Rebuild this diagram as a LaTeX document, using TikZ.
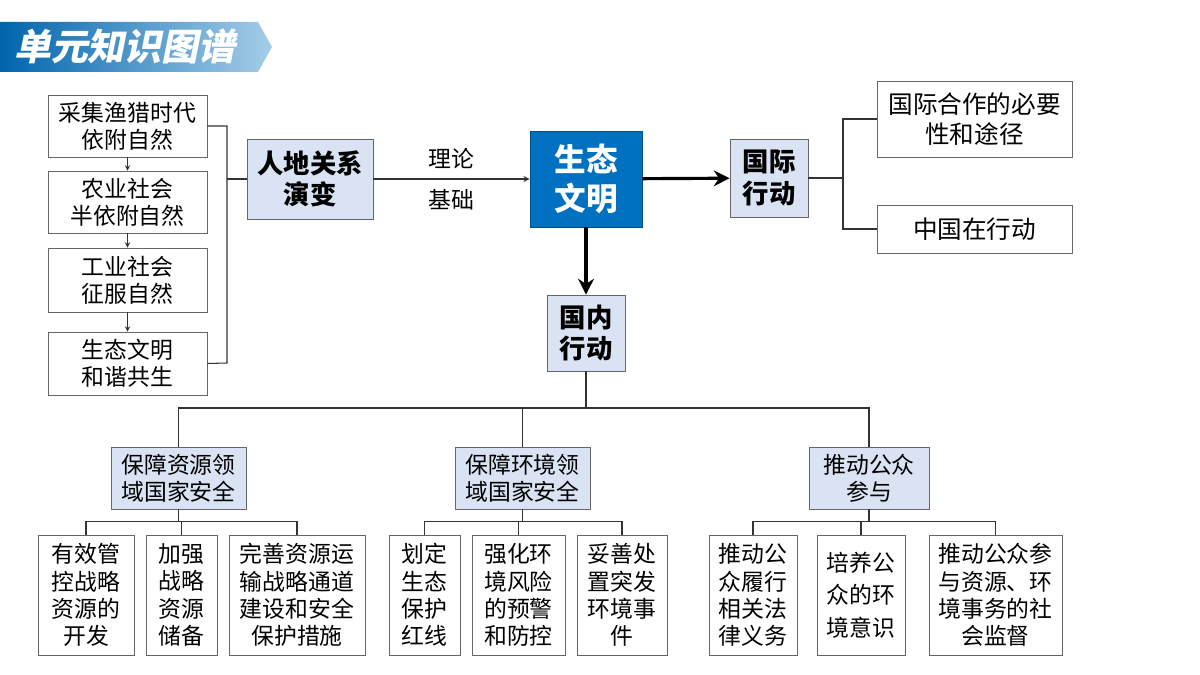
\documentclass[tikz,border=0pt]{standalone}
\usepackage{fontspec}
\usetikzlibrary{calc,arrows.meta}
\setmainfont{Noto Sans CJK SC}
\newfontfamily\titlefont[FakeSlant=0.2]{Noto Sans CJK SC}
\definecolor{boxblue}{HTML}{DAE3F3}
\definecolor{mainblue}{HTML}{0070C0}
\tikzset{
  sz/.style 2 args={minimum width=#1*0.02cm, minimum height=#2*0.02cm},
  box/.style={draw=black!60, fill=white, align=center, inner sep=1pt, font=\fontsize{13}{15.5}\selectfont},
  hbox/.style={box, fill=boxblue, font=\fontsize{15}{18}\selectfont\bfseries},
  link/.style={draw=black!80, line width=0.6pt},
  bigarrow/.style={draw=black, line width=1.8pt, -{Stealth[length=9pt,width=9pt]}},
}
\begin{document}
\begin{tikzpicture}[x=0.02cm, y=-0.02cm]
  \useasboundingbox (0,0) rectangle (1200,675);
  % title banner
  \shade[left color=mainblue!90!black, right color=mainblue!35] (0,22) -- (258,22) -- (272,47) -- (258,72) -- (0,72) -- cycle;
  \node[text=white, font=\titlefont\fontsize{21}{24}\selectfont\bfseries, anchor=west] (title) at (8,46) {单元知识图谱};
  % history chain
  \node[box, sz={159}{62}] (s1) at (127.5,126) {采集渔猎时代\\依附自然};
  \node[box, sz={159}{62}] (s2) at (127.5,202) {农业社会\\半依附自然};
  \node[box, sz={159}{64}] (s3) at (127.5,280) {工业社会\\征服自然};
  \node[box, sz={159}{63}] (s4) at (127.5,363.5) {生态文明\\和谐共生};
  \foreach \a/\b in {s1/s2, s2/s3, s3/s4}
    \draw[link, line width=0.4pt, -stealth] (\a) -- (\b);
  \node[hbox, sz={126}{80}] (rd) at (310,179) {人地关系\\演变};
  \coordinate (bt) at (227,126);
  \coordinate (bb) at (227,363);
  \draw[link] (s1.east) -- (bt) -- (bb) -- (s4.east);
  \draw[link] (rd.west) -- (rd.west -| bt);
  % centre
  \node[box, draw=mainblue!70!black, fill=mainblue, text=white, sz={112}{96}, font=\fontsize{18}{22}\selectfont\bfseries] (st) at (586,179) {生态\\文明};
  \draw[link, -stealth] (rd) -- node[above=2pt, font=\fontsize{13}{15}\selectfont] {理论} node[below=2pt, font=\fontsize{13}{15}\selectfont] {基础} (st);
  \node[hbox, sz={78}{78}] (gj) at (769,178) {国际\\行动};
  \draw[bigarrow] (st) -- (gj);
  \node[box, sz={195}{76}, font=\fontsize{14}{17}\selectfont] (g1) at (974.5,119) {国际合作的必要\\性和途径};
  \node[box, sz={195}{48}, font=\fontsize{14}{17}\selectfont] (g2) at (974.5,229) {中国在行动};
  \coordinate (gt) at (843,119);
  \coordinate (gb) at (843,229);
  \draw[link] (g1.west) -- (gt) -- (gb) -- (g2.west);
  \draw[link] (gj.east) -- (gj.east -| gt);
  % domestic
  \node[hbox, sz={78}{76}] (gn) at (586,333) {国内\\行动};
  \draw[bigarrow] (st) -- (gn);
  \node[hbox, sz={135}{62}, font=\fontsize{13}{15.5}\selectfont] (a) at (178.5,478) {保障资源领\\域国家安全};
  \node[hbox, sz={135}{62}, font=\fontsize{13}{15.5}\selectfont] (b) at (522.5,478) {保障环境领\\域国家安全};
  \node[hbox, sz={120}{62}, font=\fontsize{13}{15.5}\selectfont] (c) at (869,478) {推动公众\\参与};
  \coordinate (m) at (586,408);
  \draw[link] (gn) -- (m);
  \draw[link] (a.north) |- (m) -| (c.north);
  \draw[link] (b.north) -- (b.north |- m);
  % leaves
  \node[box, sz={96}{120}] (a1) at (86,595) {有效管\\控战略\\资源的\\开发};
  \node[box, sz={71}{120}] (a2) at (181.5,595) {加强\\战略\\资源\\储备};
  \node[box, sz={136}{120}] (a3) at (297,595) {完善资源运\\输战略通道\\建设和安全\\保护措施};
  \node[box, sz={71}{120}] (b1) at (424.5,595) {划定\\生态\\保护\\红线};
  \node[box, sz={93}{120}] (b2) at (518.5,595) {强化环\\境风险\\的预警\\和防控};
  \node[box, sz={90}{120}] (b3) at (622,595) {妥善处\\置突发\\环境事\\件};
  \node[box, sz={88}{120}] (c1) at (753,595) {推动公\\众履行\\相关法\\律义务};
  \node[box, sz={88}{120}, font=\fontsize{13}{18.5}\selectfont] (c2) at (861,595) {培养公\\众的环\\境意识};
  \node[box, sz={133}{120}] (c3) at (995.5,595) {推动公众参\\与资源、环\\境事务的社\\会监督};
  \foreach \p/\l/\mid/\r in {a/a1/a2/a3, b/b1/b2/b3, c/c1/c2/c3} {
    \coordinate (\p j) at ($(\p.south)+(0,12)$);
    \draw[link] (\p.south) -- (\p j);
    \draw[link] (\l.north) |- (\p j) -| (\r.north);
    \draw[link] (\mid.north) -- (\mid.north |- \p j);
  }
\end{tikzpicture}
\end{document}
